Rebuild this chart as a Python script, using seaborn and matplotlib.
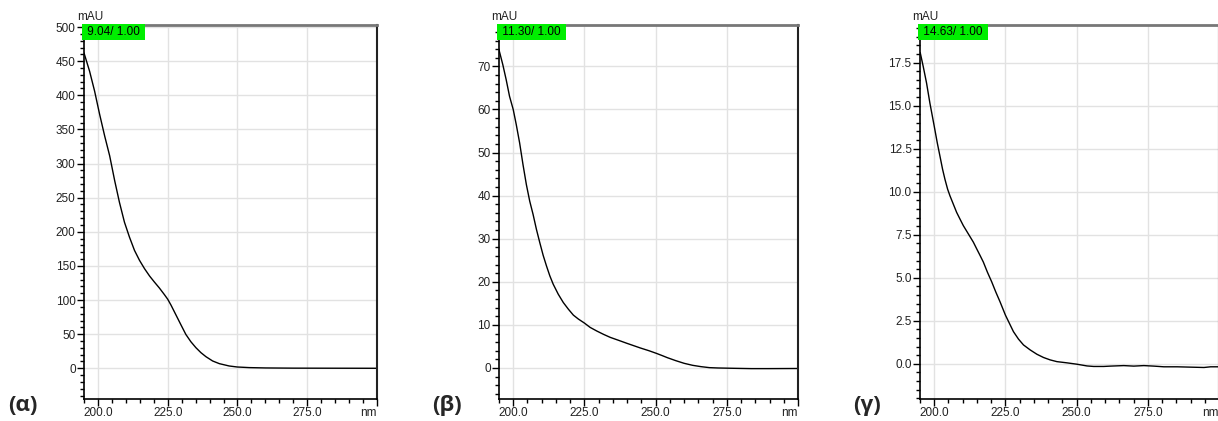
import matplotlib
matplotlib.use("Agg")
import matplotlib.pyplot as plt
import seaborn as sns
import pandas as pd
from matplotlib.ticker import MultipleLocator

# ---- data ----
wl_a = [195.0, 197.0, 198.8, 200.6, 202.4, 204.2, 206.0, 207.7, 209.5, 211.3, 213.1, 214.9,
        216.7, 218.5, 220.2, 222.0, 223.8, 225.0, 226.2, 228.0, 229.8, 231.5, 233.3, 235.1,
        236.9, 238.7, 241.1, 243.5, 247.0, 249.9, 254.2, 260.1, 270.0, 285.0, 300.0]
abs_a = [462.1, 435.3, 406.1, 372.1, 340.5, 311.3, 274.8, 243.2, 214.0, 192.1, 172.7, 158.1,
         145.9, 135.2, 126.5, 117.7, 108.0, 101.2, 92.4, 77.8, 63.2, 49.6, 38.9, 30.2,
         22.9, 17.0, 10.7, 6.8, 3.4, 1.9, 1.0, 0.5, 0.2, 0.1, 0.0]

wl_b = [194.93, 196.34, 197.52, 198.70, 200.00, 201.06, 202.24, 203.42, 204.60, 205.78,
        206.96, 208.14, 209.32, 210.50, 211.67, 212.85, 214.03, 215.80, 217.57, 219.34,
        221.11, 222.88, 225.00, 227.00, 229.36, 231.72, 234.08, 237.03, 239.97, 242.33,
        244.69, 247.64, 250.24, 252.36, 254.13, 257.07, 260.02, 262.97, 265.92, 268.87,
        271.82, 277.71, 283.61, 289.50, 300.0]
abs_b = [74.01, 70.39, 66.91, 63.05, 59.97, 56.49, 52.25, 47.23, 42.60, 38.74,
         35.66, 32.18, 29.10, 26.16, 23.69, 21.38, 19.45, 17.13, 15.20, 13.66,
         12.27, 11.35, 10.42, 9.42, 8.57, 7.80, 7.10, 6.41, 5.71, 5.17,
         4.63, 4.01, 3.40, 2.86, 2.39, 1.70, 1.08, 0.62, 0.31, 0.08,
         0.0, -0.08, -0.15, -0.15, -0.12]

wl_c = [195.07, 196.13, 197.30, 198.47, 200.00, 201.06, 202.00, 202.93, 203.76, 204.69,
        205.52, 206.69, 207.86, 209.04, 210.21, 211.97, 213.73, 214.91, 216.08, 217.25,
        218.66, 220.19, 221.60, 223.12, 225.00, 226.41, 227.82, 229.58, 231.34, 233.69,
        236.04, 238.38, 240.73, 243.08, 246.60, 250.12, 253.64, 255.99, 259.51, 261.86,
        266.55, 270.07, 273.59, 277.11, 280.63, 285.33, 290.02, 294.72, 297.06, 299.9]
abs_c = [18.08, 17.27, 16.31, 15.15, 13.80, 12.84, 12.07, 11.30, 10.72, 10.15,
         9.76, 9.28, 8.80, 8.41, 8.03, 7.55, 7.07, 6.68, 6.30, 5.91,
         5.33, 4.76, 4.18, 3.60, 2.83, 2.35, 1.87, 1.44, 1.10, 0.81,
         0.56, 0.37, 0.23, 0.13, 0.06, -0.02, -0.12, -0.15, -0.15, -0.13,
         -0.10, -0.13, -0.10, -0.13, -0.17, -0.17, -0.19, -0.21, -0.17, -0.17]

box_labels = ["9.04/ 1.00", "11.30/ 1.00", "14.63/ 1.00"]
panel_labels = ["(α)", "(β)", "(γ)"]
x_ticks = [200, 225, 250, 275, 300]
x_ticklabels = ["200.0", "225.0", "250.0", "275.0", "nm"]

sns.set_style("white")
plt.rcParams['font.family'] = ['Liberation Sans', 'DejaVu Sans']

fig = plt.figure(figsize=(12.18, 4.21), dpi=100)

panels = [
    dict(x=wl_a, y=abs_a, rect=[84/1218, 22/421, 293/1218, 374/421],
         ylim=(-45, 503), minor=10, fmt="{:.0f}", yticks=list(range(0, 501, 50)),
         lab_x=8/1218),
    dict(x=wl_b, y=abs_b, rect=[499/1218, 22/421, 299/1218, 374/421],
         ylim=(-7.2, 79.6), minor=2, fmt="{:.0f}", yticks=list(range(0, 71, 10)),
         lab_x=432/1218),
    dict(x=wl_c, y=abs_c, rect=[920/1218, 22/421, 299/1218, 374/421],
         ylim=(-2.04, 19.68), minor=0.5, fmt="{:.1f}",
         yticks=[0, 2.5, 5, 7.5, 10, 12.5, 15, 17.5], lab_x=853/1218),
]

for i, p in enumerate(panels):
    ax = fig.add_axes(p["rect"])
    df = pd.DataFrame({"nm": p["x"], "mAU": p["y"]})
    sns.lineplot(data=df, x="nm", y="mAU", ax=ax, color="black", linewidth=1.0)
    ax.set_xlim(195, 300)
    ax.set_ylim(*p["ylim"])
    ax.set_xlabel("")
    ax.set_ylabel("")
    ax.set_xticks(x_ticks)
    ax.set_xticklabels(x_ticklabels)
    ax.get_xticklabels()[-1].set_horizontalalignment("right")
    ax.set_yticks(p["yticks"])
    ax.set_yticklabels([p["fmt"].format(v) for v in p["yticks"]])
    ax.xaxis.set_minor_locator(MultipleLocator(5))
    ax.yaxis.set_minor_locator(MultipleLocator(p["minor"]))
    ax.tick_params(axis="both", which="major", direction="out", length=5, width=1,
                   color="black", labelsize=8.5, pad=1, labelcolor="#222222")
    ax.tick_params(axis="both", which="minor", direction="out", length=3, width=1,
                   color="black")
    ax.tick_params(axis="x", which="major", length=5, pad=1)
    ax.tick_params(left=True, bottom=True, which="both")
    ax.grid(True, which="major", color="#e2e2e2", linewidth=1.0)
    ax.set_axisbelow(True)
    for s in ["left", "bottom"]:
        ax.spines[s].set_color("black")
        ax.spines[s].set_linewidth(1.2)
    ax.spines["right"].set_color("#222222")
    ax.spines["right"].set_linewidth(1.5)
    ax.spines["top"].set_color("#777777")
    ax.spines["top"].set_linewidth(2)
    # green label box
    ax.text(0.0, 0.997, " " + box_labels[i] + " ", transform=ax.transAxes,
            ha="left", va="top", fontsize=8.5, color="black",
            bbox=dict(boxstyle="square,pad=0.15", facecolor="#00ee00",
                      edgecolor="none"), zorder=5)
    ax.text(-0.025, 1.005, "mAU", transform=ax.transAxes, ha="left", va="bottom",
            fontsize=8.5, color="#222222")
    fig.text(p["lab_x"], 0.038, panel_labels[i], ha="left", va="center",
             fontsize=16, fontweight="bold", family=["Open Sans", "DejaVu Sans"])

fig.savefig("out.png", dpi=100)
